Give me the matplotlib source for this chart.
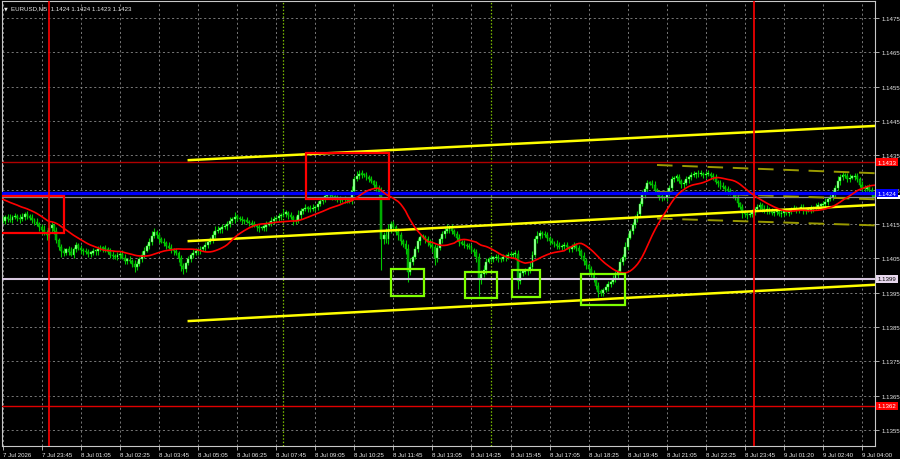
import numpy as np
import pandas as pd
import matplotlib
matplotlib.use("Agg")
import matplotlib.pyplot as plt
from matplotlib.patches import Rectangle
import matplotlib.transforms as mtransforms

plt.rcParams['font.family'] = ['Liberation Sans', 'DejaVu Sans']

# ---------------- data ----------------
first_open = 1.14162
closes = [
 1.14159,1.14170,1.14165,1.14162,1.14170,1.14173,1.14168,1.14164,1.14171,1.14179,
 1.14174,1.14168,1.14163,1.14157,1.14150,1.14140,1.14132,1.14123,1.14119,1.14138,
 1.14146,1.14130,1.14104,1.14083,1.14070,1.14066,1.14076,1.14069,1.14061,1.14078,
 1.14089,1.14080,1.14074,1.14070,1.14068,1.14064,1.14065,1.14070,1.14071,1.14076,
 1.14080,1.14078,1.14077,1.14069,1.14060,1.14057,1.14054,1.14059,1.14063,1.14052,
 1.14043,1.14046,1.14042,1.14034,1.14025,1.14033,1.14049,1.14060,1.14072,1.14086,
 1.14099,1.14115,1.14127,1.14118,1.14106,1.14099,1.14095,1.14087,1.14081,1.14076,
 1.14070,1.14066,1.14050,1.14027,1.14019,1.14035,1.14048,1.14060,1.14066,1.14071,
 1.14074,1.14077,1.14082,1.14089,1.14097,1.14106,1.14119,1.14130,1.14133,1.14135,
 1.14140,1.14144,1.14150,1.14159,1.14164,1.14170,1.14168,1.14164,1.14161,1.14159,
 1.14157,1.14153,1.14150,1.14145,1.14141,1.14138,1.14139,1.14141,1.14148,1.14154,
 1.14159,1.14164,1.14168,1.14173,1.14176,1.14180,1.14182,1.14175,1.14170,1.14163,
 1.14159,1.14175,1.14188,1.14193,1.14197,1.14195,1.14194,1.14197,1.14200,1.14208,
 1.14217,1.14224,1.14231,1.14234,1.14237,1.14231,1.14226,1.14223,1.14220,1.14222,
 1.14223,1.14220,1.14217,1.14245,1.14281,1.14290,1.14296,1.14294,1.14293,1.14288,
 1.14281,1.14274,1.14265,1.14255,1.14243,1.14106,1.14118,1.14106,1.14135,1.14150,
 1.14141,1.14128,1.14118,1.14100,1.14092,1.14077,1.14010,1.14040,1.14054,1.14077,
 1.14100,1.14112,1.14112,1.14105,1.14097,1.14089,1.14083,1.14050,1.14080,1.14106,
 1.14120,1.14130,1.14135,1.14141,1.14130,1.14121,1.14110,1.14097,1.14093,1.14089,
 1.14086,1.14083,1.14075,1.14068,1.14055,1.13990,1.14005,1.14015,1.14040,1.14048,
 1.14049,1.14051,1.14054,1.14050,1.14048,1.14053,1.14057,1.14059,1.14060,1.14062,
 1.14063,1.13985,1.14008,1.14010,1.14012,1.14016,1.14025,1.14060,1.14106,1.14116,
 1.14124,1.14120,1.14118,1.14110,1.14100,1.14096,1.14092,1.14087,1.14083,1.14086,
 1.14089,1.14082,1.14077,1.14083,1.14089,1.14080,1.14071,1.14058,1.14042,1.14030,
 1.14019,1.14005,1.13990,1.13970,1.13952,1.13950,1.13958,1.13966,1.13975,1.13981,
 1.13990,1.14002,1.14013,1.14040,1.14054,1.14083,1.14110,1.14130,1.14147,1.14165,
 1.14179,1.14208,1.14235,1.14252,1.14269,1.14268,1.14264,1.14250,1.14240,1.14229,
 1.14227,1.14226,1.14243,1.14255,1.14281,1.14285,1.14287,1.14275,1.14266,1.14269,
 1.14280,1.14287,1.14293,1.14295,1.14298,1.14296,1.14296,1.14293,1.14295,1.14296,
 1.14290,1.14287,1.14272,1.14269,1.14261,1.14258,1.14252,1.14246,1.14241,1.14237,
 1.14229,1.14210,1.14199,1.14182,1.14180,1.14176,1.14180,1.14185,1.14195,1.14199,
 1.14205,1.14195,1.14188,1.14194,1.14188,1.14182,1.14185,1.14185,1.14179,1.14183,
 1.14188,1.14182,1.14188,1.14194,1.14192,1.14191,1.14195,1.14197,1.14188,1.14190,
 1.14191,1.14194,1.14197,1.14200,1.14203,1.14205,1.14208,1.14215,1.14223,1.14230,
 1.14240,1.14255,1.14275,1.14287,1.14293,1.14290,1.14281,1.14285,1.14287,1.14290,
 1.14282,1.14264,1.14254,1.14252,1.14258,1.14248,1.14234,1.14230,
]
up_wick_pips = [
 1,0.5,1,1.5,0.5,1,0.5,1,1,0.5,1,0.5,1,0.5,1,0.5,1,1.5,1,2,
 1,0.5,1,0.5,1,1,0.5,1,1.5,0.5,1,0.5,1,0.5,1,1,0.5,1,0.5,1,
 1,0.5,1,0.5,1,1,0.5,1,0.5,1,1,0.5,1,0.5,1,1,0.5,1,1,0.5,
 1,1.5,1,0.5,1,0.5,1,0.5,1,1,0.5,1,0.5,1,1,0.5,1,0.5,1,1,
 0.5,1,0.5,1,1,0.5,1,1.5,1,0.5,1,0.5,1,1,0.5,1.5,1,0.5,1,0.5,
 1,0.5,1,1,0.5,1,0.5,1,1,0.5,1,1,0.5,1,0.5,1.5,1,0.5,1,0.5,
 1,1.5,1,0.5,1,0.5,1,1,0.5,1,1,0.5,1.5,1,0.5,1,0.5,1,1,0.5,
 1,0.5,1,1.5,1,1.5,1,1,0.5,1,0.5,1,0.5,1,1,1.5,1,2,1.5,1,
 1,0.5,1,1,0.5,1,1.5,1,0.5,1,1,0.5,1,0.5,1,1,1.5,1,1,0.5,
 1,1,1.5,0.5,1,0.5,1,1,0.5,1,0.5,1,1,0.5,1,1,1,1.5,1,0.5,
 1,0.5,1,1,0.5,1,0.5,1,1,0.5,1,1,1,0.5,1,1,1.5,1,1,1.5,
 1,0.5,1,1,0.5,1,0.5,1,1,0.5,1,1,0.5,1,1,0.5,1,0.5,1,1,
 0.5,1,1,0.5,1,1,0.5,1,1,0.5,1,1,0.5,1,1,1.5,1,0.5,1,1,
 1,1,1.5,1,1,0.5,1,1,0.5,1,1,0.5,1,1,1,0.5,1,1,0.5,1,
 1,0.5,1,1,0.5,1,1,0.5,1,1,0.5,1,1,0.5,1,1,0.5,1,1,0.5,
 1,1,0.5,1,1,0.5,1,1,0.5,1,1,0.5,1,1,0.5,1,1,0.5,1,1,
 0.5,1,1,0.5,1,1,0.5,1,1,0.5,1,1,0.5,1,1,0.5,1,1,0.5,1,
 1,1,1.5,1,1,0.5,1,1,0.5,1,1,0.5,1,1,0.5,1,1,0.5,
]
dn_wick_pips = [
 0.5,1,1,0.5,1,0.5,1,1,0.5,1,1,0.5,1,1,0.5,1,1,0.5,1.5,1,
 1,1,1,1,1.5,1,0.5,1,0.5,1,1,0.5,1,1,0.5,1,1,0.5,1,1,
 0.5,1,1,0.5,1,1,0.5,1,1,0.5,1,1,0.5,1,1.5,1,0.5,1,1,0.5,
 1,1,0.5,1,1,0.5,1,1,0.5,1,1,0.5,1,1.5,1.5,1,0.5,1,1,0.5,
 1,1,0.5,1,1,0.5,1,1,0.5,1,1,0.5,1,1,0.5,1,1,0.5,1,1,
 0.5,1,1,0.5,1,1,0.5,1,1,0.5,1,1,0.5,1,1,0.5,1,1,0.5,1.5,
 1,0.5,1,1,0.5,1,1,0.5,1,1,0.5,1,1,0.5,1,1,0.5,1,1,0.5,
 1,1,0.5,1,1,0.5,1,1,0.5,1,1,0.5,1,1,1,9,1.5,1,1.5,1,
 1,1,1.5,1,1,1.5,3,1,1,0.5,1,1,0.5,1,1,1,1.5,2,1,0.5,
 1,1,0.5,1,1,0.5,1,1,0.5,1,1,0.5,1,1,1.5,5,1.5,1,1,0.5,
 1,1,0.5,1,1,0.5,1,1,0.5,1,1,2.5,1,1,0.5,1,1,1,0.5,1,
 1,1,0.5,1,1,0.5,1,1,0.5,1,1,0.5,1,1,0.5,1,1,1,1,1,
 1,1,1,1,1.5,1,1,0.5,1,1,0.5,1,1,0.5,1,1,1,0.5,1,1,
 1,1,0.5,1,1,0.5,1,1,0.5,1,1,0.5,1,1,0.5,1,1,0.5,1,1,
 0.5,1,1,0.5,1,1,0.5,1,1,0.5,1,1,0.5,1,1,0.5,1,1,0.5,1,
 1,1,0.5,1.5,1,1,0.5,1,1,0.5,1,1,0.5,1,1,0.5,1,1,0.5,1,
 1,0.5,1,1,0.5,1,1,0.5,1,1,0.5,1,1,0.5,1,1,0.5,1,1,0.5,
 1,1,0.5,1,1,0.5,1,1,0.5,1,1,0.5,1,1,0.5,1,1,0.5,
]
# closes before the visible window (seen only through the moving average)
prior_closes = [1.14228,1.14226,1.14225,1.14227,1.14224,1.14222,1.14226,1.14228,1.14225,1.14223,
                1.14226,1.14229,1.14227,1.14224,1.14225,1.14228,1.14226,1.14223,1.14221,1.14224]

tick_labels = ["7 Jul 2026", "7 Jul 23:45", "8 Jul 01:05", "8 Jul 02:25", "8 Jul 03:45",
               "8 Jul 05:05", "8 Jul 06:25", "8 Jul 07:45", "8 Jul 09:05", "8 Jul 10:25",
               "8 Jul 11:45", "8 Jul 13:05", "8 Jul 14:25", "8 Jul 15:45", "8 Jul 17:05",
               "8 Jul 18:25", "8 Jul 19:45", "8 Jul 21:05", "8 Jul 22:25", "8 Jul 23:45",
               "9 Jul 01:20", "9 Jul 02:40", "9 Jul 04:00"]
bars_per_tick = 16
price_ticks = [1.1355, 1.1365, 1.1375, 1.1385, 1.1395, 1.1405, 1.1415,
               1.1425, 1.1435, 1.1445, 1.1455, 1.1465, 1.1475]

level_red_top = 1.1433
level_blue = 1.1424
level_bid = 1.1423
level_white = 1.1399
level_red_bottom = 1.1362

day_separators = [19, 307.6]
session_lines = [115, 200]

trend_x = [75.7, 357.5]
trend_upper = [1.14336, 1.14436]
trend_mid = [1.14100, 1.14206]
trend_low = [1.13867, 1.13973]

chan_x = [268, 357.5]
chan_upper = [1.14322, 1.14298]
chan_mid = [1.14244, 1.14222]
chan_low = [1.14166, 1.14146]

red_boxes = [(-3, 25, 1.14124, 1.14231), (124.3, 158.3, 1.14223, 1.14357)]
green_boxes = [(159.1, 172.6, 1.13940, 1.14019), (189.4, 202.5, 1.13934, 1.14010),
               (208.6, 220.0, 1.13937, 1.14016), (236.8, 254.8, 1.13914, 1.14004)]

title_text = "EURUSD,M5  1.1424 1.1424 1.1423 1.1423"

# ---------------- derived ----------------
c = np.array(closes)
o = np.concatenate([[first_open], c[:-1]])
hi = np.maximum(o, c) + np.array(up_wick_pips) * 1e-4
lo = np.minimum(o, c) - np.array(dn_wick_pips) * 1e-4
idx = np.arange(len(c))
ma = pd.Series(prior_closes + closes).rolling(20).mean().to_numpy()[len(prior_closes):]

# ---------------- figure ----------------
fig = plt.figure(figsize=(9, 4.6), dpi=100, facecolor='black')
ax = fig.add_axes([2/900, 1 - 447/460, 873/900, 445/460], facecolor='black')
ax.set_xlim(-0.3, 357.3)
ax.set_ylim(1.13503, 1.14800)

txtc = '#e8e8e8'
fs = 4.4

# grid
for x in range(0, len(tick_labels) * bars_per_tick, bars_per_tick):
    ax.axvline(x, color='#8a8a8a', lw=0.6, ls=(0, (2.5, 3)), zorder=0)
for p in price_ticks:
    ax.axhline(p, color='#8a8a8a', lw=0.6, ls=(0, (2.5, 3)), zorder=0)

# horizontal levels
ax.axhline(level_red_top, color='#b00000', lw=1.0, zorder=3)
ax.axhline(level_bid, color='#8c8c8c', lw=0.9, zorder=3)
ax.axhline(level_blue, color='#0000ff', lw=2.4, zorder=4)
ax.axhline(level_white, color='#d8c8e0', lw=1.5, zorder=3)
ax.axhline(level_red_bottom, color='#e00000', lw=1.0, zorder=3)

# vertical separators
for x in day_separators:
    ax.axvline(x, color='#ff0000', lw=1.2, zorder=5)
for x in session_lines:
    ax.axvline(x, color='#7cbf00', lw=0.9, ls=(0, (1.2, 1.5)), zorder=1)

# candles
up = c >= o
ax.vlines(idx, lo, hi, color='#00c800', lw=0.8, zorder=2)
body_bot = np.minimum(o, c)
body_h = np.maximum(np.abs(c - o), 0.00004)
ax.bar(idx[up], body_h[up], bottom=body_bot[up], width=0.78,
       color='#a8ffa8', edgecolor='#00ff00', linewidth=0.3, zorder=2.2)
ax.bar(idx[~up], body_h[~up], bottom=body_bot[~up], width=0.78,
       color='#00a000', edgecolor='#00e000', linewidth=0.3, zorder=2.2)

# moving average
ax.plot(idx, ma, color='#ff0000', lw=1.2, zorder=4.5)

# trend lines
for ys in (trend_upper, trend_mid, trend_low):
    ax.plot(trend_x, ys, color='#ffff00', lw=1.8, zorder=4.2, solid_capstyle='butt')
for ys in (chan_upper, chan_mid, chan_low):
    ax.plot(chan_x, ys, color='#9a9a00', lw=1.4, ls=(0, (8, 5)), zorder=3.5)

# boxes
for x0, x1, p0, p1 in red_boxes:
    ax.add_patch(Rectangle((x0, p0), x1 - x0, p1 - p0, fill=False,
                           edgecolor='#ff0000', lw=1.6, zorder=5))
for x0, x1, p0, p1 in green_boxes:
    ax.add_patch(Rectangle((x0, p0), x1 - x0, p1 - p0, fill=False,
                           edgecolor='#7fff00', lw=1.6, zorder=5))

# axes styling
for s in ax.spines.values():
    s.set_color('#c8c8c8')
    s.set_linewidth(0.8)
ax.yaxis.tick_right()
ax.set_yticks(price_ticks)
ax.set_yticklabels([f"{p:.4f}" for p in price_ticks])
ax.set_xticks(list(range(0, len(tick_labels) * bars_per_tick, bars_per_tick)))
ax.set_xticklabels(tick_labels)
plt.setp(ax.get_xticklabels(), ha='left')
ax.tick_params(axis='both', colors='#c8c8c8', labelcolor=txtc, labelsize=fs,
               length=3, width=0.6, pad=1.5)
ax.tick_params(axis='x', pad=1.0)

# right-side price labels
tr = mtransforms.blended_transform_factory(ax.transAxes, ax.transData)
def tag(p, fc, tc, z=6):
    ax.text(1.003, p, f"{p:.4f}", transform=tr, fontsize=fs, color=tc,
            ha='left', va='center', clip_on=False, zorder=z,
            bbox=dict(boxstyle='square,pad=0.25', fc=fc, ec='none'))
tag(level_red_top, '#ff0000', 'white')
# bid marker (mostly hidden under the blue tag)
ax.add_patch(Rectangle((1.002, level_bid - 0.00008), 0.027, 0.00012, transform=tr,
                       fc='#ffffff', ec='none', clip_on=False, zorder=5.5))
tag(level_blue, '#0000ff', 'white', z=7)
tag(level_white, '#e8d8ee', 'black')
tag(level_red_bottom, '#ff0000', 'white')

# title
fig.text(4/900, 1 - 9/460, "\u25BC", fontsize=3.5, color=txtc, va='center',
         family=['DejaVu Sans'])
fig.text(11/900, 1 - 8.5/460, title_text, fontsize=fs, color=txtc, va='center')

fig.savefig("out.png", dpi=100, facecolor='black')
